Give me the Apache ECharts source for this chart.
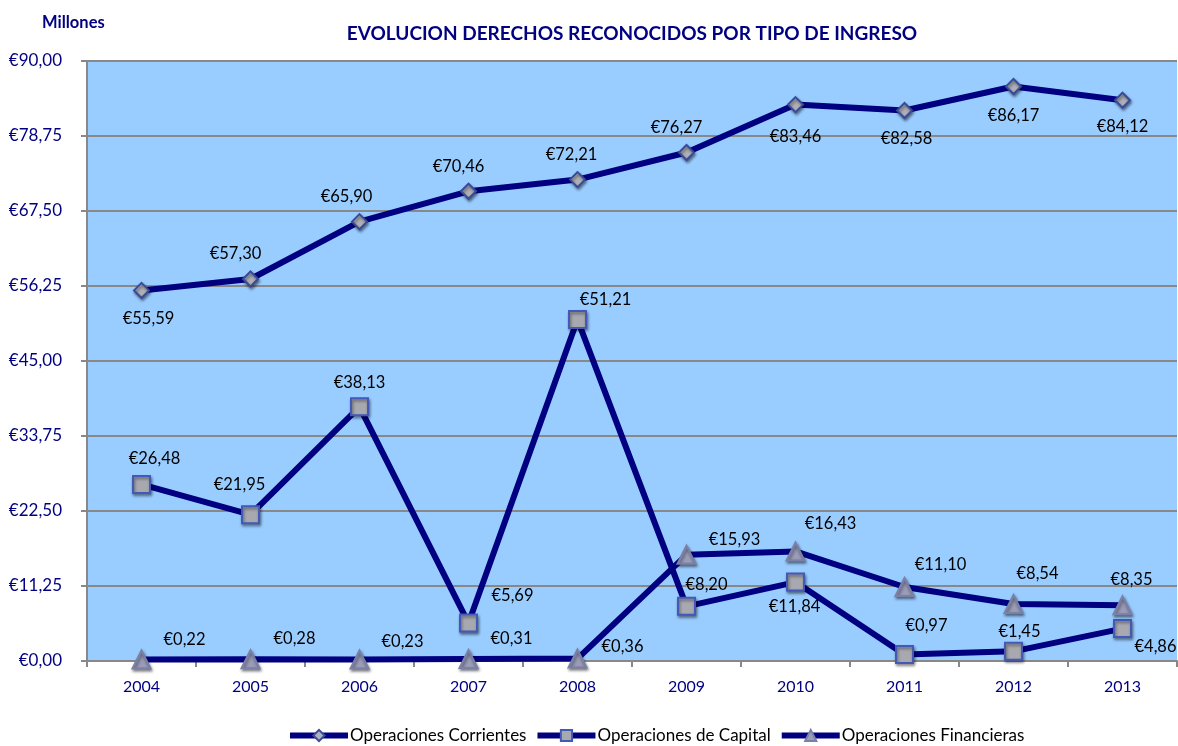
<!DOCTYPE html>
<html>
<head>
<meta charset="utf-8">
<script src="https://cdn.jsdelivr.net/npm/echarts@6/dist/echarts.min.js"></script>
<style>
html,body{margin:0;padding:0;background:#fff;}
#chart{width:1178px;height:746px;}
</style>
</head>
<body>
<div id="chart"></div>
<script>
var years = ['2004','2005','2006','2007','2008','2009','2010','2011','2012','2013'];
var corrientes = [55.59, 57.30, 65.90, 70.46, 72.21, 76.27, 83.46, 82.58, 86.17, 84.12];
var capital = [26.48, 21.95, 38.13, 5.69, 51.21, 8.20, 11.84, 0.97, 1.45, 4.86];
var financieras = [0.22, 0.28, 0.23, 0.31, 0.36, 15.93, 16.43, 11.10, 8.54, 8.35];
var seriesNames = ['Operaciones Corrientes', 'Operaciones de Capital', 'Operaciones Financieras'];

// label offsets (presentation only)
var offCorr = [[7,28],[-15,-25],[-13,-25],[-10,-25],[-6,-25],[-10,-25],[0,32],[2,28],[0,29],[0,26]];
var offCap = [[13,-26],[-11,-30],[0,-24],[44,-27],[28,-20],[20,-22],[-1,25],[22,-29],[6,-20],[33,18]];
var offFin = [[43,-20],[44,-20],[43,-18],[43,-20],[45,-12],[48,-15],[35,-28],[36,-22],[24,-30],[9,-26]];

function fmt(v){ return '\u20AC' + v.toFixed(2).replace('.', ','); }

function build(vals, offs){
  return vals.map(function(v,i){
    return {value: v, label: {offset: offs[i]}};
  });
}

var FONT = 'Lato, "Open Sans", sans-serif';
var navy = '#000080';

function mkSeries(name, vals, offs, symbol, size, fill, border){
  return {
    name: name,
    type: 'line',
    data: build(vals, offs),
    symbol: symbol,
    symbolSize: size,
    showAllSymbol: true,
    lineStyle: {color: navy, width: 6},
    itemStyle: {color: fill, borderColor: border, borderWidth: 2,
      shadowBlur: 3, shadowColor: 'rgba(0,0,0,0.45)', shadowOffsetX: 1, shadowOffsetY: 2},
    label: {
      show: true, position: 'inside', color: '#000', fontSize: 16.5, fontFamily: FONT,
      formatter: function(p){ return fmt(p.value); }
    },
    emphasis: {disabled: true},
    z: 3
  };
}

var chart = echarts.init(document.getElementById('chart'), null, {renderer: 'canvas'});
chart.setOption({
  animation: false,
  backgroundColor: '#ffffff',
  title: [{
    text: 'EVOLUCION DERECHOS RECONOCIDOS POR TIPO DE INGRESO',
    left: 627, top: 19, textAlign: 'center',
    textStyle: {color: navy, fontSize: 19, fontWeight: 'bold', fontFamily: FONT}
  },{
    text: 'Millones', left: 37, top: 9,
    textStyle: {color: navy, fontSize: 16.5, fontWeight: 'bold', fontFamily: FONT}
  }],
  grid: {left: 87, right: 1, top: 61, bottom: 85, show: true, backgroundColor: '#99CCFF', borderWidth: 0},
  legend: {
    top: 722, left: 282, itemWidth: 58, itemHeight: 14, itemGap: 8,
    lineStyle: {width: 6, color: navy},
    textStyle: {color: '#000', fontSize: 17, fontFamily: FONT, padding: [0,0,0,-3]},
    data: seriesNames
  },
  xAxis: {
    type: 'category', data: years, boundaryGap: true,
    axisLine: {lineStyle: {color: '#888', width: 2}},
    axisTick: {show: true, length: 6, lineStyle: {color: '#888', width: 2}},
    axisLabel: {color: navy, fontSize: 16, fontFamily: FONT, margin: 18}
  },
  yAxis: {
    type: 'value', min: 0, max: 90, interval: 11.25,
    axisLine: {show: true, lineStyle: {color: '#888', width: 2}},
    axisTick: {show: true, length: 6, lineStyle: {color: '#888', width: 2}},
    splitLine: {lineStyle: {color: '#888', width: 2}},
    axisLabel: {color: navy, fontSize: 17, fontFamily: FONT, margin: 25, formatter: fmt}
  },
  series: [
    mkSeries(seriesNames[0], corrientes, offCorr, 'diamond', 15, '#b0b0b8', '#3a4a9a'),
    mkSeries(seriesNames[1], capital, offCap, 'rect', 17, '#a8a8b0', '#4458b8'),
    mkSeries(seriesNames[2], financieras, offFin, 'triangle', 18, '#9a9cb8', '#7a80a8')
  ]
});
</script>
</body>
</html>
